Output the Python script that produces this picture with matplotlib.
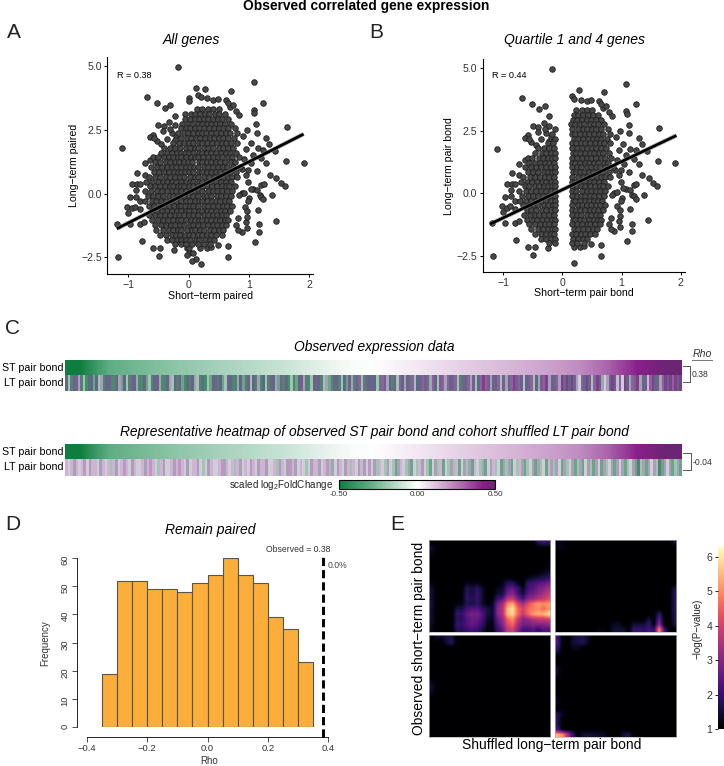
import numpy as np
import matplotlib
matplotlib.use("Agg")
import matplotlib.pyplot as plt
from matplotlib.colors import LinearSegmentedColormap, to_rgb

plt.rcParams["font.family"] = ["Liberation Sans", "DejaVu Sans"]
plt.rcParams["axes.unicode_minus"] = True
plt.rcParams["mathtext.fontset"] = "custom"
plt.rcParams["mathtext.rm"] = "Liberation Sans"
plt.rcParams["mathtext.default"] = "rm"

W, H = 724, 766

# sparse points around the cloud
edge_x = [-0.18, 1.08, 0.13, 0.28, 0.71, -0.69, -0.52, -0.39, -0.30, 1.24, 1.08, 1.09, 0.0, 0.0, 0.16, 0.2, 0.31, 0.41,
          0.49, 0.62, 0.69, 0.74, 0.65, 0.78, 0.84, -0.22, -0.06, -0.5, -0.41, -0.32, -0.23, -0.42, -0.59, -0.64, -0.53,
          -0.57, 1.63, 1.12, 0.97, 1.13, 1.29, 1.34, 1.03, -1.11, 1.61, 1.91, 1.29, 1.15, 1.24, 1.43, 1.07, 1.21, -0.73,
          -0.64, -0.59, -0.86, -0.73, -0.94, -0.86, -0.8, -0.87, -0.97, -0.87, -1.02, -0.94, -0.89, -1.0, -0.81, -0.8,
          -1.19, -0.97, -0.81, -0.74, -0.78, -1.17, -0.59, -0.47, -0.49, -0.24, 0.66, 0.2, 0.13, 0.05, -0.03, 0.0, 0.01,
          -0.03, 0.07, 0.66, 0.19, 0.3, 0.37, 0.49, 1.35, 1.46, 1.54, 1.6, 1.21, 1.25, 1.07, 1.14, 1.38, 1.18, 1.21, 1.24,
          1.0, 0.99, 1.15, 1.45, 1.17, 1.17, 1.1, 0.95, 0.97, 0.88, 0.82, 0.78, 0.82, 0.93, 0.97, 0.88, 0.84, 0.92, 0.99,
          1.13, 0.99, 0.96, 1.04, -0.2, -0.27, -0.36, -0.45, -0.3, -0.23, 0.9, 0.95, 0.92, 0.89, 1.03, 0.97]
edge_y = [4.97, 4.37, 4.15, 4.12, 4.04, 3.81, 3.56, 3.35, 3.48, 3.56, 3.29, 3.16, 3.75, 3.65, 3.88, 3.78, 3.74, 3.69,
          3.73, 3.69, 3.4, 3.48, 3.58, 3.23, 3.1, 3.07, 3.14, 2.69, 2.66, 2.81, 2.7, 2.45, 2.31, 2.22, 2.05,
          2.18, 2.61, 2.73, 2.5, 2.4, 2.2, 1.96, 1.98, 1.78, 1.29, 1.22, 1.19, 1.78, 1.72, 1.69, 1.52, 1.39, 1.19,
          1.33, 1.43, 0.8, 0.73, 0.38, 0.38, 0.38, 0.14, -0.14, -0.12, -0.51, -0.58, -0.51, -0.75, -0.31, -0.62,
          -1.18, -1.19, -1.19, -1.1, -1.85, -2.51, -2.14, -2.14, -2.47, -2.2, -2.51, -2.78, -2.59, -2.64, -2.15, -2.15, -2.35,
          -2.41, -2.35, -2.07, -2.15, -2.15, -2.11, -2.02, 0.73, 0.62, 0.43, 0.3, 0.34, 0.37, 0.17, 0.14, -0.07, -0.05, -0.12, -0.21,
          -0.18, -0.31, -0.63, -1.06, -1.21, -1.52, -1.89, -1.1, -1.36, -1.5, -1.43, -1.23, -0.97, -0.51, -0.67, 0.01, -0.05, 0.04, 0.47,
          0.87, 0.93, 0.73, 1.19, 2.25, 2.4, 2.15, 1.95, 2.55, 2.1, 2.25, 1.75, 1.35, 0.95, 0.2, -0.9]

# the dense middle of the cloud, one row of x positions per y level
core_y = [3.32, 3.13, 2.94, 2.75, 2.56, 2.37, 2.18, 1.99, 1.8, 1.61, 1.42, 1.23, 1.04, 0.85, 0.66, 0.47, 0.28, 0.09,
          -0.1, -0.29, -0.48, -0.67, -0.86, -1.05, -1.24, -1.43, -1.62, -1.81, -1.98]
core_x = [
    [0.14, 0.23, 0.33, 0.41, 0.5],
    [0.04, 0.11, 0.19, 0.27, 0.34, 0.44, 0.51, 0.6],
    [-0.06, 0.02, 0.1, 0.18, 0.25, 0.33, 0.41, 0.49, 0.56, 0.66],
    [-0.1, -0.01, 0.06, 0.15, 0.22, 0.3, 0.37, 0.46, 0.53, 0.61, 0.71],
    [-0.13, -0.04, 0.03, 0.11, 0.17, 0.26, 0.34, 0.42, 0.5, 0.57, 0.65, 0.77],
    [-0.17, -0.08, -0.01, 0.07, 0.16, 0.22, 0.29, 0.38, 0.45, 0.54, 0.62, 0.69, 0.8],
    [-0.12, -0.03, 0.04, 0.12, 0.19, 0.27, 0.35, 0.43, 0.51, 0.58, 0.66, 0.75],
    [-0.25, -0.16, -0.07, 0.01, 0.08, 0.17, 0.23, 0.31, 0.39, 0.47, 0.55, 0.63, 0.7, 0.81],
    [-0.41, -0.31, -0.22, -0.14, -0.05, 0.03, 0.1, 0.16, 0.25, 0.33, 0.41, 0.5, 0.57, 0.65, 0.74],
    [-0.46, -0.35, -0.27, -0.19, -0.13, -0.06, 0.01, 0.07, 0.18, 0.23, 0.3, 0.38, 0.46, 0.54, 0.62, 0.69, 0.79],
    [-0.51, -0.4, -0.33, -0.25, -0.17, -0.12, -0.04, 0.04, 0.11, 0.16, 0.24, 0.33, 0.41, 0.49, 0.56, 0.65, 0.72, 0.83],
    [-0.56, -0.47, -0.38, -0.3, -0.22, -0.15, -0.08, -0.01, 0.06, 0.17, 0.22, 0.3, 0.38, 0.45, 0.53, 0.61, 0.7, 0.77],
    [-0.63, -0.53, -0.44, -0.36, -0.27, -0.2, -0.13, -0.05, 0.02, 0.09, 0.16, 0.25, 0.32, 0.41, 0.49, 0.57, 0.64, 0.73, 0.85],
    [-0.58, -0.49, -0.41, -0.32, -0.24, -0.17, -0.12, -0.06, 0.01, 0.07, 0.18, 0.23, 0.3, 0.37, 0.45, 0.52, 0.6, 0.69, 0.78],
    [-0.66, -0.55, -0.47, -0.38, -0.3, -0.22, -0.14, -0.07, 0.03, 0.1, 0.16, 0.26, 0.34, 0.42, 0.5, 0.58, 0.65, 0.72, 0.81],
    [-0.7, -0.6, -0.51, -0.43, -0.35, -0.28, -0.2, -0.13, -0.05, 0.02, 0.08, 0.17, 0.22, 0.3, 0.38, 0.46, 0.54, 0.62, 0.7],
    [-0.64, -0.56, -0.47, -0.39, -0.31, -0.25, -0.17, -0.12, -0.08, 0.0, 0.07, 0.16, 0.24, 0.31, 0.39, 0.47, 0.55, 0.63, 0.68, 0.77],
    [-0.73, -0.62, -0.53, -0.44, -0.36, -0.27, -0.2, -0.13, -0.05, 0.03, 0.1, 0.17, 0.23, 0.33, 0.41, 0.48, 0.56, 0.64, 0.72],
    [-0.68, -0.59, -0.5, -0.42, -0.33, -0.25, -0.17, -0.12, -0.07, 0.01, 0.08, 0.16, 0.25, 0.31, 0.38, 0.47, 0.54, 0.62, 0.7],
    [-0.72, -0.61, -0.54, -0.45, -0.37, -0.28, -0.2, -0.13, -0.04, 0.02, 0.1, 0.18, 0.22, 0.3, 0.39, 0.45, 0.53, 0.61, 0.67],
    [-0.66, -0.57, -0.48, -0.41, -0.32, -0.24, -0.16, -0.12, -0.06, 0.03, 0.08, 0.16, 0.26, 0.33, 0.41, 0.49, 0.57, 0.64, 0.72],
    [-0.6, -0.53, -0.44, -0.35, -0.27, -0.19, -0.13, -0.05, 0.01, 0.09, 0.17, 0.23, 0.3, 0.38, 0.46, 0.54, 0.6, 0.69],
    [-0.65, -0.55, -0.47, -0.39, -0.31, -0.23, -0.15, -0.08, 0.0, 0.07, 0.16, 0.25, 0.32, 0.41, 0.48, 0.56, 0.63],
    [-0.6, -0.5, -0.43, -0.34, -0.26, -0.18, -0.12, -0.04, 0.04, 0.11, 0.18, 0.22, 0.3, 0.37, 0.45, 0.53, 0.61, 0.66],
    [-0.56, -0.46, -0.38, -0.29, -0.22, -0.14, -0.07, 0.02, 0.08, 0.16, 0.24, 0.33, 0.41, 0.47, 0.55, 0.63],
    [-0.54, -0.42, -0.33, -0.25, -0.17, -0.12, -0.03, 0.05, 0.1, 0.19, 0.26, 0.35, 0.43, 0.51, 0.58],
    [-0.47, -0.37, -0.28, -0.2, -0.14, -0.06, 0.01, 0.08, 0.16, 0.23, 0.31, 0.38, 0.46, 0.55],
    [-0.36, -0.27, -0.19, -0.13, -0.04, 0.03, 0.12, 0.18, 0.27, 0.35, 0.42],
    [-0.22, -0.12, -0.05, 0.06, 0.16, 0.25, 0.36],
]

fit_a_x = [-1.19, 1.91]
fit_a_y = [-1.38, 2.34]
fit_b_x = [-1.22, 1.93]
fit_b_y = [-1.22, 2.31]

x_ticks = [-1, 0, 1, 2]
y_ticks = [-2.5, 0.0, 2.5, 5.0]

# sorted ST row, sampled evenly along the strip
st_values = [-0.5, -0.3, -0.26, -0.22, -0.19, -0.16, -0.13, -0.1, -0.06, -0.02, 0.0, 0.03, 0.06, 0.09, 0.12, 0.15,
             0.18, 0.22, 0.3, 0.42, 0.5]

# LT rows, one letter per column, colours looked up in strip_colors
lt_observed = ("cgbcdfbgacchcgfbcdabcfhcgbdcfabchgbcdfabcfgcbdhacbcfgbcaghcdbchgdcbafchbdgcbfacgbdcfhdbcagbhcdfbagcdcbgfhadcbgchdfbcegbdc"
               "dcgbedfcbdgecfdbegcdedbfecgdefecdegbdcefdgcemedfdcegdfcemdecjcdegcfdemfcdefmdmcmdfiecmdgemcfifdmcjeimcfedmfcdjemcdfemcmemcm")
lt_shuffled = ("jijfjijkifjjifjijgjfijkjifjiijfjkjigjfiijfjkjifijjfigifjiijkfjijgjfijikjifjjfiijgfjifkjfijigifjjfijkgfifjifjgjifjfik"
               "ifgjigfighfjigfhigjfighifgjhigfgjhifgfhjigfhifjgihfgfhigjfhgifhfgihjfgfihfgifhgfhifghfihfgifhfifhgifhbgfhfifgbhfifhgfh")
strip_colors = {"a": "#448f6b", "b": "#5b7d78", "c": "#5e6a84", "d": "#74608f", "e": "#8f5fa0", "f": "#a9a0b8",
                "g": "#9fc4b0", "h": "#6aa588", "i": "#cfced8", "j": "#d0b3d4", "k": "#bb97c2", "m": "#7f3f8c"}

hist_edges = [-0.35, -0.3, -0.25, -0.2, -0.15, -0.1, -0.05, 0.0, 0.05, 0.1, 0.15, 0.2, 0.25, 0.3, 0.35]
hist_counts = [19, 52, 52, 49, 49, 48, 51, 54, 60, 54, 51, 39, 35, 23]
observed_rho = 0.38

# panel E, top left quadrant, -log(P) on a coarse grid
heat_tl = [
    [1, 1, 1, 1, 1, 1, 1, 1, 1, 1, 1, 1, 1, 1, 1, 1, 1, 1, 1, 1, 1, 1.8, 2.0, 1.9],
    [1.5, 1, 1, 1, 1, 1, 1, 1, 1, 1, 1, 1, 1, 1, 1, 1, 1, 1, 1, 1, 1, 1, 1, 1],
    [1.3, 1, 1, 1, 1, 1, 1, 1, 1, 1, 1, 1, 1, 1, 1, 1, 1, 1, 1, 1, 1, 1, 1, 1],
    [1, 1, 1, 1, 1, 1, 1, 1, 1, 1, 1, 1, 1, 1, 1, 1, 1, 1, 1, 1, 1, 1, 1, 1],
    [1, 1, 1, 1, 1, 1, 1, 1, 1, 1, 1, 1, 1, 1, 1, 1, 1, 1, 1, 1, 1, 1, 1, 1.1],
    [1, 1, 1, 1, 1, 1, 1, 1, 1, 1, 1, 1, 1, 1, 1, 1, 1, 1, 1, 1, 1, 1, 1.1, 1.2],
    [1, 1, 1, 1, 1, 1, 1, 1, 1, 1, 1, 1, 1, 1, 1, 1, 1, 1, 1, 1, 1, 1.1, 1.3, 1.5],
    [1, 1, 1, 1, 1, 1, 1, 1, 1, 1, 1, 1, 1, 1, 1.1, 1.2, 1.1, 1, 1, 1.3, 1.5, 1.6, 1.8, 2.0],
    [1.2, 1, 1, 1, 1, 1, 1, 1.3, 1.2, 1.3, 1.1, 1, 1, 1, 1.2, 1.8, 1.8, 1.3, 1, 2.0, 2.2, 2.4, 2.6, 2.8],
    [1.5, 1, 1, 1, 1, 1, 1, 1.8, 1.5, 1.9, 1.4, 1, 1, 1.3, 1.4, 2.4, 2.6, 2.0, 1.3, 2.2, 2.4, 2.8, 3.0, 3.4],
    [1.5, 1, 1, 1, 1, 1, 1.1, 1.9, 1.6, 2.0, 1.5, 1, 1, 1.5, 1.6, 2.8, 3.0, 2.2, 1.5, 2.5, 2.7, 3.0, 3.4, 3.8],
    [1.5, 1, 1, 1, 1, 1, 1.1, 1.9, 1.7, 2.0, 1.5, 1, 1.1, 2.0, 2.4, 3.6, 3.8, 2.8, 2.2, 3.0, 3.2, 3.6, 3.8, 4.2],
    [1.6, 1, 1, 1, 1, 1.2, 1.2, 1.8, 1.6, 1.9, 1.4, 1.1, 1.3, 2.8, 3.4, 5.0, 5.4, 4.0, 3.4, 4.2, 4.8, 5.2, 5.0, 5.2],
    [1.5, 1, 1, 1, 1, 1.6, 1.6, 2.2, 2.4, 2.4, 2.0, 1.6, 1.4, 3.0, 3.6, 5.6, 5.9, 4.6, 4.0, 4.6, 4.8, 5.0, 4.6, 5.0],
    [1.5, 1, 1, 1, 1, 2.0, 2.0, 2.6, 2.8, 2.8, 2.4, 1.6, 1.4, 3.0, 3.6, 5.6, 5.8, 4.6, 3.8, 4.6, 5.2, 5.4, 5.4, 6.0],
    [1.5, 1, 1, 1, 1, 1.8, 1.8, 2.4, 2.6, 2.6, 2.2, 1.4, 1.3, 2.6, 3.2, 4.6, 5.0, 3.8, 3.0, 3.2, 3.6, 3.8, 3.8, 4.0],
    [1.4, 1, 1, 1, 1, 2.0, 2.0, 2.4, 2.6, 2.4, 2.0, 1.3, 1.2, 2.4, 3.0, 4.2, 4.6, 3.4, 2.8, 2.8, 3.0, 3.0, 3.0, 3.2],
    [1.3, 1, 1, 1, 1, 1.8, 1.8, 2.0, 2.2, 2.0, 1.6, 1.2, 1.2, 2.0, 2.6, 3.8, 4.0, 3.0, 2.2, 2.2, 2.4, 2.0, 2.4, 2.4],
]
# the other quadrants are almost flat: (row, column, value) of the cells above 1
heat_tr_cells = [(0, 0, 1.2), (0, 1, 1.2), (1, 0, 1.25), (1, 1, 1.2), (0, 23, 1.5), (9, 23, 1.6), (10, 23, 1.8), (11, 23, 1.8),
                 (12, 23, 1.8), (13, 23, 1.8), (14, 23, 1.7), (15, 23, 1.7), (16, 23, 1.6), (14, 20, 2.0), (15, 20, 2.6),
                 (15, 18, 1.6), (16, 20, 3.2), (16, 18, 2.0), (16, 15, 1.5), (16, 16, 1.5), (16, 17, 1.5), (16, 11, 1.3),
                 (16, 12, 1.4), (17, 20, 5.0), (17, 18, 2.2), (17, 19, 1.8), (17, 21, 2.2), (17, 15, 2.0), (17, 16, 2.0),
                 (17, 17, 1.9), (17, 11, 1.5), (17, 12, 1.5), (17, 13, 1.5), (17, 8, 1.2), (17, 9, 1.2)]
heat_bl_cells = [(0, 1, 1.4), (0, 2, 1.3), (0, 3, 1.6), (0, 4, 1.7), (1, 3, 1.5), (1, 4, 1.8), (9, 0, 1.4), (10, 0, 1.5),
                 (11, 0, 1.3)]
heat_br_cells = [(0, 0, 2.2), (1, 0, 2.4), (2, 0, 2.0), (3, 0, 1.4), (0, 3, 1.4), (0, 4, 1.6), (0, 5, 1.7), (0, 6, 1.4),
                 (1, 3, 1.5), (1, 4, 1.6), (1, 5, 1.8), (1, 6, 1.3), (2, 3, 1.3), (2, 4, 1.3), (6, 0, 1.4), (7, 0, 1.4),
                 (12, 0, 1.3), (13, 0, 1.3), (15, 0, 1.8), (15, 1, 1.3), (16, 0, 1.8), (17, 0, 1.8), (18, 0, 2.2),
                 (19, 0, 5.4), (19, 1, 5.0), (19, 2, 3.5), (19, 3, 2.0), (19, 5, 1.5), (19, 6, 1.5), (19, 7, 1.5),
                 (19, 8, 1.4), (19, 9, 1.4), (19, 13, 1.6), (19, 14, 1.7)]


def add_axes_px(left, top, right, bottom):
    return fig.add_axes([left / W, 1 - bottom / H, (right - left) / W, (bottom - top) / H])


def put_text(x, y, s, **kw):
    kw.setdefault("ha", "center")
    kw.setdefault("va", "center")
    fig.text(x / W, 1 - y / H, s, **kw)


def scatter_panel(ax, px, py, fit_x, fit_y, xlim, ylim):
    points = ax.scatter(px, py, s=16, c="#484848", edgecolors="#1e1e1e", linewidths=0.6, zorder=2)
    points.set_snap(False)
    ax.plot(fit_x, fit_y, color="#888888", lw=3.2, alpha=0.6, solid_capstyle="butt", zorder=3)
    ax.plot(fit_x, fit_y, color="black", lw=2.0, solid_capstyle="butt", zorder=4)
    ax.set_xlim(xlim)
    ax.set_ylim(ylim)
    ax.set_xticks(x_ticks)
    ax.set_xticklabels(["\u22121", "0", "1", "2"])
    ax.set_yticks(y_ticks)
    ax.set_yticklabels(["\u22122.5", "0.0", "2.5", "5.0"])
    ax.tick_params(labelsize=7.6, length=2.5, width=0.7, pad=1.5, labelcolor="#333333")
    for side in ["top", "right"]:
        ax.spines[side].set_visible(False)
    for side in ["left", "bottom"]:
        ax.spines[side].set_linewidth(0.8)


def quadrant(box, grid):
    ax = add_axes_px(*box)
    ax.imshow(grid, cmap="magma", vmin=1, vmax=6.27, aspect="auto", interpolation="bilinear")
    ax.set_xticks([])
    ax.set_yticks([])
    for s in ax.spines.values():
        s.set_color("#b0b0b0")
        s.set_linewidth(0.5)
    return ax


def sparse_grid(rows, cols, cells):
    grid = np.ones((rows, cols))
    for r, c, v in cells:
        grid[r, c] = v
    return grid


all_x = list(edge_x)
all_y = list(edge_y)
for y_level, row in zip(core_y, core_x):
    all_x += row
    all_y += [y_level] * len(row)
all_x = np.array(all_x)
all_y = np.array(all_y)

fig = plt.figure(figsize=(W / 100, H / 100), dpi=100, facecolor="white")

put_text(366, 6, "Observed correlated gene expression", fontsize=9.9, fontweight="bold")
panel_letters = [("A", 7, 32), ("B", 369, 32), ("C", 5, 329), ("D", 5, 525), ("E", 390, 525)]
for letter, lx, ly in panel_letters:
    put_text(lx, ly, letter, fontsize=15, ha="left", color="#222222")

# A and B
ax_a = add_axes_px(107.3, 57, 313, 274)
scatter_panel(ax_a, all_x, all_y, fit_a_x, fit_a_y, (-1.348, 2.066), (-3.16, 5.37))
put_text(191, 40, "All genes", fontsize=10, style="italic")
put_text(210, 295.7, "Short\u2212term paired", fontsize=7.6)
put_text(74, 165.7, "Long\u2212term paired", fontsize=7.6, rotation=90)
put_text(117, 75, "R = 0.38", fontsize=6.6, ha="left")

keep = (all_x <= -0.12) | (all_x >= 0.15)
ax_b = add_axes_px(482.7, 59.3, 684.7, 272.3)
scatter_panel(ax_b, all_x[keep], all_y[keep], fit_b_x, fit_b_y, (-1.35, 2.07), (-3.15, 5.35))
put_text(574, 40, "Quartile 1 and 4 genes", fontsize=10, style="italic")
put_text(583.7, 293.3, "Short\u2212term pair bond", fontsize=7.6)
put_text(449.3, 165.7, "Long\u2212term pair bond", fontsize=7.6, rotation=90)
put_text(492, 75.5, "R = 0.44", fontsize=6.6, ha="left")

# C heat strips
expr_cmap = LinearSegmentedColormap.from_list(
    "expr", [(0, "#0f7d3e"), (0.2, "#5fad84"), (0.5, "#ffffff"), (0.8, "#a964aa"), (0.92, "#8a208a"), (1, "#6c2474")])


def heat_strip(top, mid, bottom, letters):
    st_ax = add_axes_px(65.3, top, 682, mid)
    im = st_ax.imshow([st_values], cmap=expr_cmap, vmin=-0.5, vmax=0.5, aspect="auto", interpolation="bilinear")
    st_ax.axis("off")
    lt_ax = add_axes_px(65.3, mid, 682, bottom)
    rgb = np.array([[to_rgb(strip_colors[ch]) for ch in letters]])
    lt_ax.imshow(rgb, aspect="auto", interpolation="nearest")
    lt_ax.axis("off")
    put_text(63, (top + mid) / 2, "ST pair bond", fontsize=7.7, ha="right")
    put_text(63, (mid + bottom) / 2, "LT pair bond", fontsize=7.7, ha="right")
    return im


strip_im = heat_strip(359.7, 375.3, 391.3, lt_observed)
heat_strip(444, 459.3, 475.7, lt_shuffled)
put_text(374, 347, "Observed expression data", fontsize=9.9, style="italic")
put_text(374, 432, "Representative heatmap of observed ST pair bond and cohort shuffled LT pair bond", fontsize=9.9,
         style="italic")

put_text(702, 354, "Rho", fontsize=7.6, style="italic", color="#333333")
overlay = fig.add_axes([0, 0, 1, 1], facecolor="none")
overlay.set_xlim(0, W)
overlay.set_ylim(H, 0)
overlay.axis("off")
overlay.plot([692, 712], [359.5, 359.5], color="#777777", lw=0.7)
overlay.plot([683, 690, 690, 683], [365.7, 365.7, 381.7, 381.7], color="#555555", lw=0.7)
overlay.plot([683, 690.5, 690.5, 683], [453.3, 453.3, 470, 470], color="#555555", lw=0.7)
put_text(691.5, 375, "0.38", fontsize=6.2, ha="left", color="#333333")
put_text(692.5, 462.7, "-0.04", fontsize=6.2, ha="left", color="#333333")

cax = add_axes_px(339, 480, 495, 489)
cb = fig.colorbar(strip_im, cax=cax, orientation="horizontal")
cb.set_ticks([-0.5, 0.0, 0.5], labels=["-0.50", "0.00", "0.50"])
cb.ax.tick_params(labelsize=5.8, length=0, pad=1.5, labelcolor="#333333")
cb.outline.set_linewidth(0.8)
put_text(333, 485, "scaled log$_2$FoldChange", fontsize=7.1, ha="right", color="#222222")

# D histogram
ax_d = add_axes_px(86.7, 558, 328.3, 727.3)
ax_d.hist(hist_edges[:-1], bins=hist_edges, weights=hist_counts, color="#fbae39", edgecolor="#555555", linewidth=0.8)
ax_d.plot([observed_rho + 0.004] * 2, [-3.3, 60.6], color="black", lw=2.1, ls=(0, (2.8, 1.4)), clip_on=False)
ax_d.set_xlim(-0.4, 0.4)
ax_d.set_ylim(0, 60)
ax_d.set_xticks([-0.4, -0.2, 0.0, 0.2, 0.4])
ax_d.set_xticklabels(["\u22120.4", "\u22120.2", "0.0", "0.2", "0.4"])
ax_d.set_yticks([0, 10, 20, 30, 40, 50, 60])
ax_d.tick_params(axis="both", labelsize=6.8, length=3.4, width=0.6, pad=2, labelcolor="#333333", color="#333333")
ax_d.tick_params(axis="y", labelrotation=90)
for lab in ax_d.get_yticklabels():
    lab.set_va("center")
ax_d.spines["top"].set_visible(False)
ax_d.spines["right"].set_visible(False)
ax_d.spines["left"].set_position(("outward", 6.8))
ax_d.spines["bottom"].set_position(("outward", 6.8))
ax_d.spines["left"].set_linewidth(0.6)
ax_d.spines["bottom"].set_linewidth(0.6)
put_text(210, 530, "Remain paired", fontsize=10, style="italic")
put_text(209, 760.5, "Rho", fontsize=7, color="#333333")
put_text(45, 643, "Frequency", fontsize=7, rotation=90, color="#333333")
put_text(298, 549, "Observed = 0.38", fontsize=6.2, color="#333333")
put_text(328, 565, "0.0%", fontsize=6.2, ha="left", color="#444444")

# E quadrants
heat_im = quadrant((428.7, 540, 550.3, 631.7), heat_tl).images[0]
quadrant((554.7, 540, 676, 631.7), sparse_grid(18, 24, heat_tr_cells))
quadrant((428.7, 635, 550.3, 736.7), sparse_grid(20, 24, heat_bl_cells))
quadrant((554.7, 635, 676, 736.7), sparse_grid(20, 24, heat_br_cells))
put_text(419, 638, "Observed short\u2212term pair bond", fontsize=10, rotation=90)
put_text(552, 745, "Shuffled long\u2212term pair bond", fontsize=10)

cax_e = add_axes_px(718, 547.3, 730, 729.3)
cb_e = fig.colorbar(heat_im, cax=cax_e)
cb_e.outline.set_visible(False)
cb_e.set_ticks([1, 2, 3, 4, 5, 6])
cax_e.yaxis.set_ticks_position("left")
cax_e.tick_params(labelsize=7.6, length=2.5, width=0.6, pad=1.5, labelcolor="#333333")
put_text(697.7, 629, "\u2212log(P\u2212value)", fontsize=7, rotation=90, color="#222222")

fig.savefig("out.png", dpi=100)
